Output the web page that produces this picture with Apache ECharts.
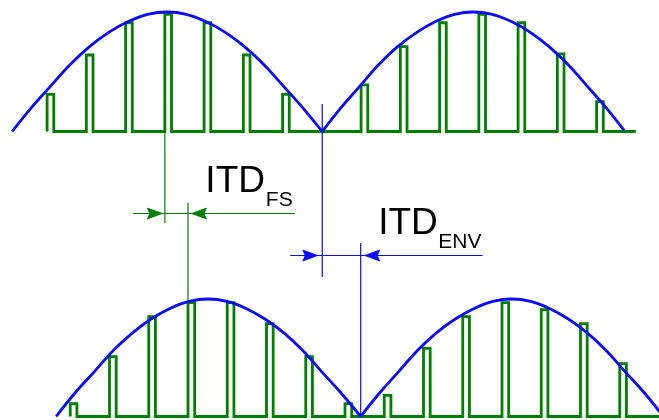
<!DOCTYPE html>
<html><head><meta charset="utf-8">
<script src="https://cdn.jsdelivr.net/npm/echarts@6/dist/echarts.min.js"></script>
<style>html,body{margin:0;padding:0;background:#fff;overflow:hidden}#c{width:659px;height:420px}</style>
</head><body><div id="c"></div>
<script>
// ---- data (time axis in pulse periods, amplitude normalised to envelope peak) ----
const pulseTimesTop    = [1.20, 2.20, 3.20, 4.20, 5.20, 6.20, 7.20, 8.20, 9.20, 10.20, 11.20, 12.20, 13.20, 14.20, 15.20];
const pulseAmpTop      = [0.31, 0.64, 0.91, 0.98, 0.91, 0.64, 0.31, 0.00, 0.39, 0.71, 0.91, 0.98, 0.91, 0.65, 0.25];
const pulseTimesBottom = [1.79, 2.79, 3.79, 4.79, 5.79, 6.79, 7.79, 8.79, 9.79, 10.79, 11.79, 12.79, 13.79, 14.79, 15.79];
const pulseAmpBottom   = [0.11, 0.51, 0.85, 0.97, 0.97, 0.79, 0.51, 0.11, 0.18, 0.58, 0.85, 0.97, 0.91, 0.79, 0.45];
const pulseWidth = 0.17;

const envTop1T = [0.31, 0.80, 1.29, 1.79, 2.28, 2.77, 3.27, 3.76, 4.26, 4.75, 5.24, 5.74, 6.23, 6.72, 7.22, 7.71, 8.21];
const envTop1A = [0.00, 0.20, 0.38, 0.56, 0.71, 0.83, 0.92, 0.98, 1.00, 0.98, 0.92, 0.83, 0.71, 0.56, 0.38, 0.20, 0.00];
const envTop2T = [8.21, 8.69, 9.17, 9.65, 10.13, 10.62, 11.10, 11.58, 12.06, 12.54, 13.03, 13.51, 13.99, 14.47, 14.96, 15.44, 15.90];
const envTop2A = [0.00, 0.20, 0.38, 0.56, 0.71, 0.83, 0.92, 0.98, 1.00, 0.98, 0.92, 0.83, 0.71, 0.56, 0.38, 0.20, 0.01];
const envBot1T = [1.43, 1.91, 2.40, 2.88, 3.37, 3.85, 4.33, 4.82, 5.30, 5.78, 6.27, 6.75, 7.24, 7.72, 8.20, 8.69, 9.19];
const envBot1A = [0.00, 0.20, 0.38, 0.56, 0.71, 0.83, 0.92, 0.98, 1.00, 0.98, 0.92, 0.83, 0.71, 0.56, 0.38, 0.20, 0.00];
const envBot2T = [9.19, 9.67, 10.15, 10.63, 11.11, 11.60, 12.08, 12.56, 13.04, 13.52, 14.00, 14.48, 14.97, 15.45, 15.93, 16.42, 16.90];
const envBot2A = [0.00, 0.20, 0.38, 0.56, 0.71, 0.83, 0.92, 0.98, 1.00, 0.98, 0.92, 0.83, 0.71, 0.56, 0.38, 0.20, 0.00];

// ITD markers (times): fine structure = pulse onset, envelope = envelope zero
const itdFsTimes  = [4.20, 4.79];
const itdEnvTimes = [8.21, 9.19];
const labelFS  = ['ITD', 'FS'];
const labelENV = ['ITD', 'ENV'];

// ---- build ----
const GREEN = '#007f00', BLUE = '#0a0aff';
function pulseTrain(times, amps, w) {
  const d = [];
  times.forEach((t, i) => { d.push([t, 0], [t, amps[i]], [t + w, amps[i]], [t + w, 0]); });
  d.push([times[times.length - 1] + 1, 0]);
  return d;
}
const zip = (T, A) => T.map((t, i) => [t, A[i]]);

const chart = echarts.init(document.getElementById('c'), null, {renderer: 'canvas'});
const XMAX = 16.79;
function envSeries(data, g) {
  return {type: 'line', xAxisIndex: g, yAxisIndex: g, data, smooth: 0.4, showSymbol: false, symbol: 'none',
    clip: false, silent: true, lineStyle: {color: BLUE, width: 2.8}, z: 3};
}
function pulseSeries(data, g) {
  return {type: 'line', xAxisIndex: g, yAxisIndex: g, data, showSymbol: false, symbol: 'none',
    clip: false, silent: true, lineStyle: {color: GREEN, width: 2.8, join: 'miter'}, z: 2};
}
chart.setOption({
  animation: false,
  backgroundColor: '#fff',
  grid: [
    {left: 0, right: 0, top: 12, height: 119.5},
    {left: 0, right: 0, top: 299, height: 117.5}
  ],
  xAxis: [
    {gridIndex: 0, type: 'value', min: 0, max: XMAX, show: false},
    {gridIndex: 1, type: 'value', min: 0, max: XMAX, show: false}
  ],
  yAxis: [
    {gridIndex: 0, type: 'value', min: 0, max: 1, show: false},
    {gridIndex: 1, type: 'value', min: 0, max: 1, show: false}
  ],
  series: [
    pulseSeries(pulseTrain(pulseTimesTop, pulseAmpTop, pulseWidth), 0),
    pulseSeries(pulseTrain(pulseTimesBottom, pulseAmpBottom, pulseWidth), 1),
    envSeries(zip(envTop1T, envTop1A), 0),
    envSeries(zip(envTop2T, envTop2A), 0),
    envSeries(zip(envBot1T, envBot1A), 1),
    envSeries(zip(envBot2T, envBot2A), 1)
  ]
});

// ---- annotations ----
const px = (g, t) => chart.convertToPixel({gridIndex: g}, [t, 0])[0];
const els = [];
function vline(x, y1, y2, color) {
  els.push({type: 'line', shape: {x1: x, y1, x2: x, y2}, style: {stroke: color, lineWidth: 1.2}, silent: true, z: 10});
}
function hline(x1, x2, y, color) {
  els.push({type: 'line', shape: {x1, y1: y, x2, y2: y}, style: {stroke: color, lineWidth: 1.2}, silent: true, z: 10});
}
function arrow(tip, dir, y, color) { // dir +1 points right, -1 points left
  const L = 15, H = 5.5, N = 2.5;
  const b = tip - dir * L;
  els.push({type: 'polygon', shape: {points: [[tip, y], [b, y - H], [b + dir * N, y], [b, y + H]]},
    style: {fill: color, stroke: color, lineWidth: 0.8}, silent: true, z: 11});
}
function label(x, y, main, sub, subX, subY) {
  els.push({type: 'text', x: 0, y: 0, silent: true, z: 12,
    style: {text: main, x, y, font: '37px "Liberation Sans", Arial, sans-serif', fill: '#000',
      align: 'left', verticalAlign: 'middle', textAlign: 'left', textVerticalAlign: 'middle'}});
  els.push({type: 'text', x: 0, y: 0, silent: true, z: 12,
    style: {text: sub, x: subX, y: subY, font: '21px "Liberation Sans", Arial, sans-serif', fill: '#000',
      align: 'left', verticalAlign: 'middle', textAlign: 'left', textVerticalAlign: 'middle'}});
}

// fine-structure ITD (green)
const f1 = px(0, itdFsTimes[0]), f2 = px(1, itdFsTimes[1]);
vline(f1, 13, 223, GREEN);
vline(f2, 203, 301, GREEN);
hline(f1 - 32, f2 + 107, 213.5, GREEN);
arrow(f1 - 2.5, 1, 213.5, GREEN);
arrow(f2 + 3.5, -1, 213.5, GREEN);
label(f1 + 40.5, 181.5, labelFS[0], labelFS[1], f1 + 101, 200.5);

// envelope ITD (blue)
const e1 = px(0, itdEnvTimes[0]), e2 = px(1, itdEnvTimes[1]);
vline(e1, 104, 277, BLUE);
vline(e2, 243, 416, BLUE);
hline(e1 - 32, e2 + 122, 255.5, BLUE);
arrow(e1 - 4.5, 1, 255.5, BLUE);
arrow(e2 + 4, -1, 255.5, BLUE);
label(e1 + 56, 223.5, labelENV[0], labelENV[1], e1 + 116, 242);

chart.setOption({graphic: {elements: els}});
</script>
</body></html>
